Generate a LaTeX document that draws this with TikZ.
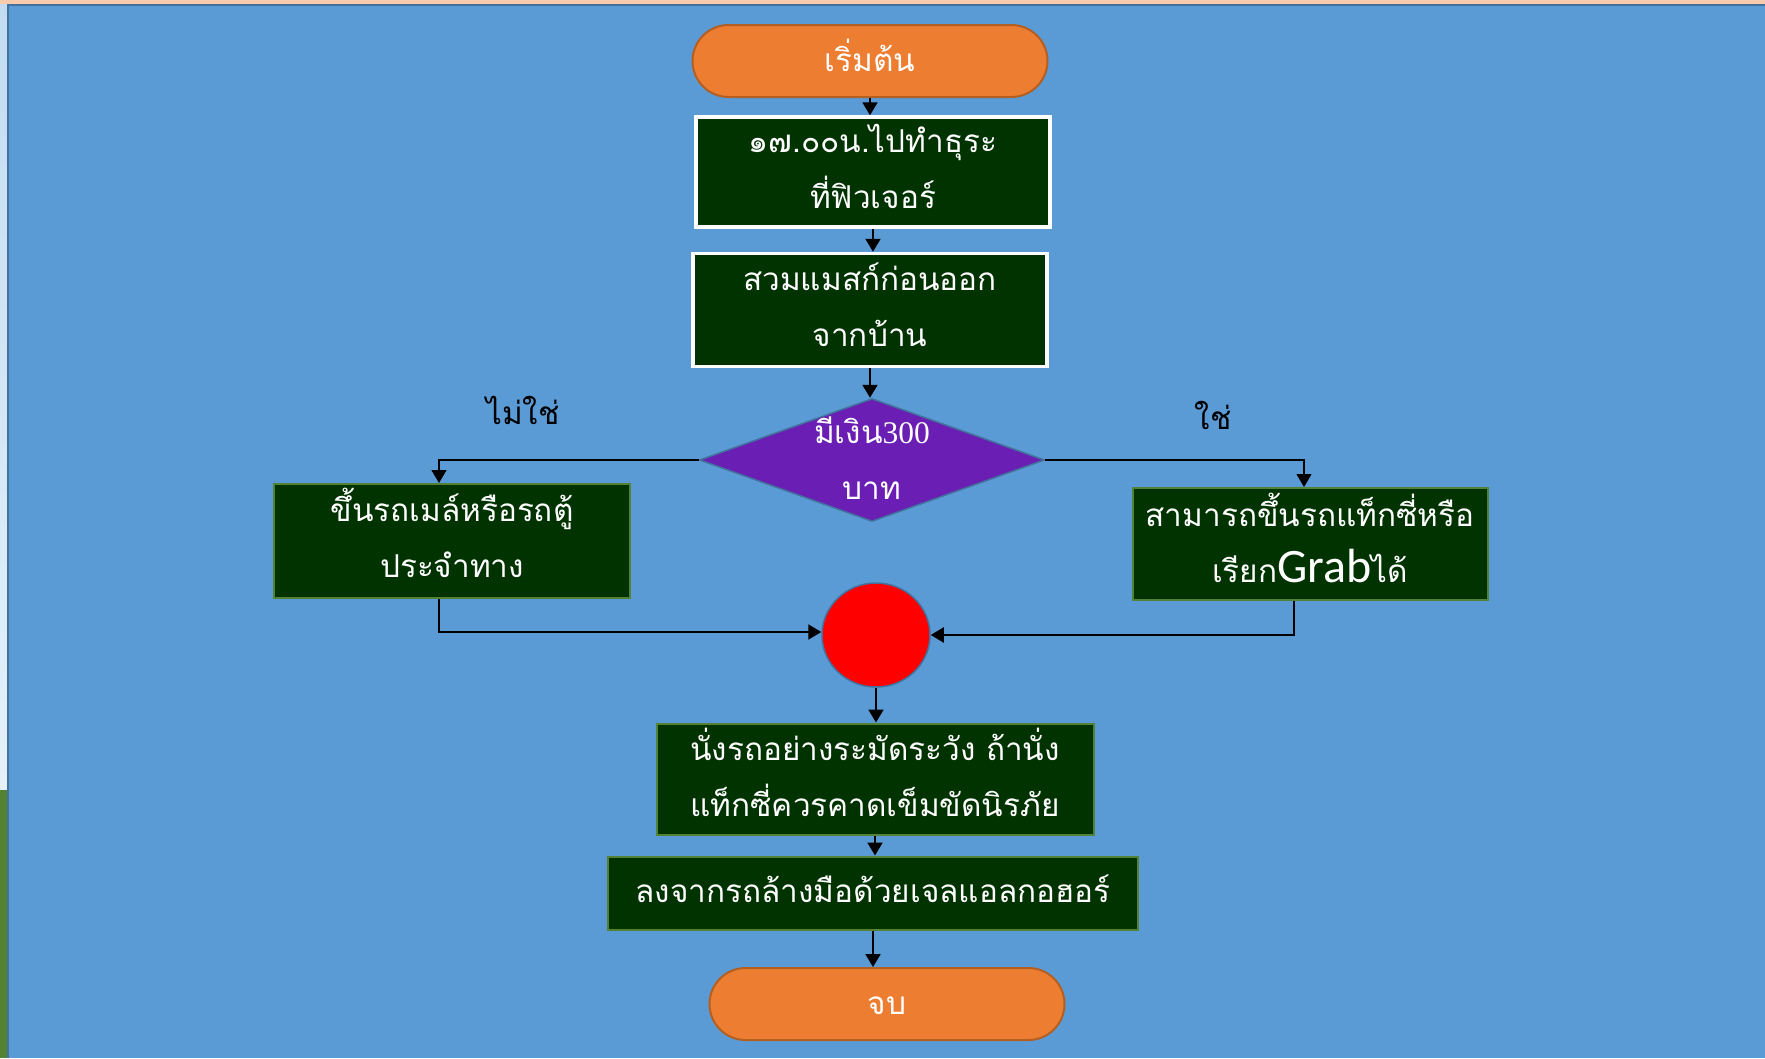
\documentclass[tikz,border=0pt]{standalone}
\usepackage{fontspec}
\usetikzlibrary{shapes.geometric,shapes.misc,arrows.meta}
\newfontfamily\thaifont[Script=Thai]{Loma}
\newfontfamily\grabfont{Carlito}
\newfontfamily\numfont{Liberation Serif}

\definecolor{bgblue}{HTML}{5B9BD5}
\definecolor{edgeblue}{HTML}{41719C}
\definecolor{peach}{HTML}{F8CBAD}
\definecolor{stripgreen}{HTML}{548235}
\definecolor{striptop}{HTML}{C3DBF1}
\definecolor{stripbot}{HTML}{E4F1FB}
\definecolor{termorange}{HTML}{ED7D31}
\definecolor{termedge}{HTML}{B45F22}
\definecolor{boxgreen}{HTML}{003300}
\definecolor{boxedge}{HTML}{548235}
\definecolor{decpurple}{HTML}{6A1EB4}

% text of fixed-size shapes, smashed so the shape keeps its own size
\newcommand{\midtext}[2][-6.3pt]{\makebox[0pt]{\raisebox{#1}[0pt][0pt]{\begin{tabular}{@{}c@{}}#2\end{tabular}}}}

\tikzset{
  thaitext/.style={font=\thaifont\fontsize{31.5}{56}\selectfont},
  terminal/.style={rounded rectangle, thaitext, fill=termorange, draw=termedge, line width=2pt,
    minimum width=355pt, minimum height=72pt, inner sep=0pt, text=white},
  procbox/.style={rectangle, thaitext, fill=boxgreen, draw=boxedge, line width=2pt,
    inner sep=0pt, text=white},
  whitebox/.style={procbox, draw=white, line width=3.5pt},
  decision/.style={diamond, thaitext, fill=decpurple, draw=edgeblue, line width=1.5pt,
    minimum width=345pt, minimum height=123pt, inner sep=0pt, text=white},
  joint/.style={ellipse, fill=red, draw=edgeblue, line width=1.5pt,
    minimum width=108pt, minimum height=104pt, inner sep=0pt},
  answer/.style={thaitext, text=black, inner sep=0pt},
  arrowtip/.style={-{Triangle[length=13pt,width=15pt]}}
}

\begin{document}
\begin{tikzpicture}[x=1pt,y=-1pt]
  \useasboundingbox (0,0) rectangle (1765,1058);

  % background
  \fill[peach] (0,0) rectangle (1765,4);
  \shade[top color=striptop, bottom color=stripbot] (0,4) rectangle (7,790);
  \fill[stripgreen] (0,790) rectangle (7,1058);
  \fill[bgblue] (7,4) rectangle (1765,1058);
  \draw[edgeblue, line width=2.5pt] (1765,5.2) -- (8.2,5.2) -- (8.2,1058);

  % shapes
  \node[terminal] (start) at (870,61) {\midtext[-5.3pt]{เริ่มต้น}};
  \node[whitebox, minimum width=354pt, minimum height=110pt] (s1) at (873,172)
    {\midtext[-3.8pt]{๑๗.๐๐น.ไปทำธุระ\\ที่ฟิวเจอร์}};
  \node[whitebox, minimum width=354pt, minimum height=113pt] (s2) at (870,310)
    {\midtext[-3.3pt]{สวมแมสก์ก่อนออก\\จากบ้าน}};
  \node[decision] (q) at (872,460) {\midtext[-7pt]{มีเงิน{\numfont 300}\\บาท}};
  \node[procbox, minimum width=356pt, minimum height=114pt] (no) at (452,541)
    {\midtext[-3.3pt]{ขึ้นรถเมล์หรือรถตู้\\ประจำทาง}};
  \node[procbox, minimum width=355pt, minimum height=112pt] (yes) at (1310,544)
    {\midtext[-5.3pt]{สามารถขึ้นรถแท็กซี่หรือ\\เรียก{\grabfont\fontsize{48}{56}\selectfont Grab}ได้}};
  \node[joint] (m) at (876,635) {};
  \node[procbox, minimum width=437pt, minimum height=111pt] (s5) at (875,779)
    {\midtext[-4.3pt]{นั่งรถอย่างระมัดระวัง ถ้านั่ง\\แท็กซี่ควรคาดเข็มขัดนิรภัย}};
  \node[procbox, minimum width=530pt, minimum height=73pt] (s6) at (873,893)
    {\midtext[-4.3pt]{ลงจากรถล้างมือด้วยเจลแอลกอฮอร์}};
  \node[terminal] (stop) at (887,1004) {\midtext[-5.3pt]{จบ}};

  % branch labels
  \node[answer] (nolab) at (523,410) {ไม่ใช่};
  \node[answer] (yeslab) at (1213,415) {ใช่};

  % connectors
  \begin{scope}[every edge/.style={draw, line width=2pt, arrowtip}]
    \path (start.south) edge (start.south |- s1.north);
    \path (s1.south) edge (s1.south |- s2.north);
    \path (s2.south) edge (s2.south |- q.north);
    \path (m.south) edge (m.south |- s5.north);
    \path (s5.south) edge (s5.south |- s6.north);
    \path (s6.south) edge (s6.south |- stop.north);
  \end{scope}

  \draw[line width=1.3pt, arrowtip] (q.west) -| ([xshift=-13pt]no.north);
  \draw[line width=1.3pt, arrowtip] (q.east) -| ([xshift=-6pt]yes.north);
  \draw[line width=2pt, arrowtip] ([xshift=-13pt]no.south) |- ([yshift=3pt]m.west);
  \draw[line width=2pt, arrowtip] ([xshift=-16pt]yes.south) |- (m.east);

\end{tikzpicture}
\end{document}
